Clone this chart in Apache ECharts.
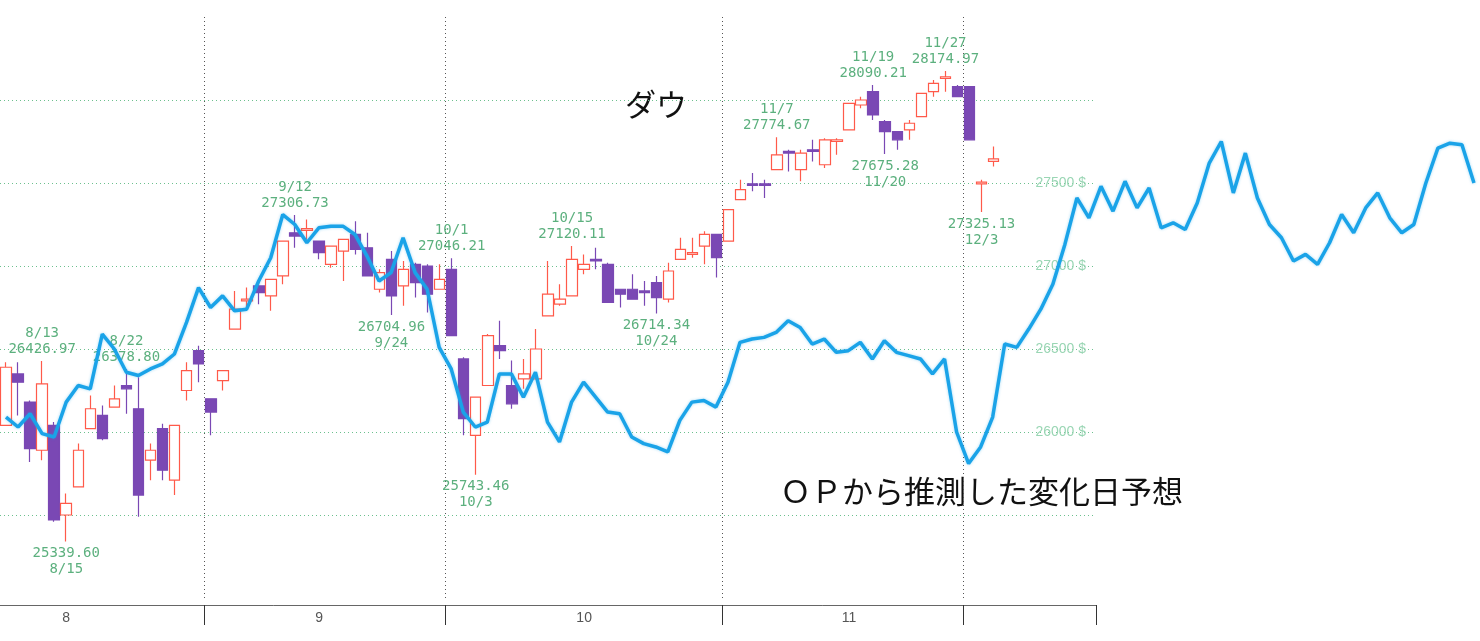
<!DOCTYPE html>
<html><head><meta charset="utf-8">
<script src="https://cdn.jsdelivr.net/npm/echarts@6/dist/echarts.min.js"></script>
<style>html,body{margin:0;padding:0;background:#fff}#c{width:1480px;height:641px}</style>
</head><body><div id="c"></div>
<script>
const dates = ['8/8','8/9','8/12','8/13','8/14','8/15','8/16','8/19','8/20','8/21','8/22','8/23','8/26','8/27','8/28','8/29','8/30',
'9/3','9/4','9/5','9/6','9/9','9/10','9/11','9/12','9/13','9/16','9/17','9/18','9/19','9/20','9/23','9/24','9/25','9/26','9/27','9/30',
'10/1','10/2','10/3','10/4','10/7','10/8','10/9','10/10','10/11','10/14','10/15','10/16','10/17','10/18','10/21','10/22','10/23','10/24','10/25','10/28','10/29','10/30','10/31',
'11/1','11/4','11/5','11/6','11/7','11/8','11/11','11/12','11/13','11/14','11/15','11/18','11/19','11/20','11/21','11/22','11/25','11/26','11/27','11/29',
'12/2','12/3','12/4','12/5','12/6','12/9','12/10','12/11','12/12','12/13','12/16'];
// [open, close, low, high]
const ohlc = [
[26040,26390,26040,26420],[26350,26300,26100,26420],[26180,25900,25820,26190],[25890,26290,25830,26427],
[26040,25470,25460,26060],[25500,25570,25340,25630],[25670,25890,25670,25930],[26020,26140,26020,26220],
[26100,25960,25950,26160],[26150,26200,26150,26280],[26280,26260,26110,26379],[26140,25620,25490,26330],
[25830,25890,25710,25930],[26020,25770,25710,26050],[25710,26040,25620,26040],[26250,26370,26190,26420],
[26490,26410,26300,26520],[26200,26120,25980,26200],[26310,26370,26250,26370],[26620,26740,26620,26850],
[26790,26800,26740,26870],[26880,26840,26770,26910],[26820,26920,26730,26920],[26940,27150,26890,27150],
[27200,27180,27110,27307],[27215,27225,27160,27280],[27150,27080,27040,27150],[27010,27120,26990,27120],
[27090,27160,26910,27160],[27190,27100,27070,27270],[27110,26940,26940,27200],[26860,26960,26840,26980],
[27040,26820,26705,27090],[26880,26980,26760,27030],[27010,26900,26810,27020],[27000,26830,26720,27010],
[26860,26920,26860,27010],[26980,26580,26580,27046],[26440,26080,25980,26450],[25980,26210,25743,26210],
[26280,26580,26280,26590],[26520,26490,26440,26670],[26280,26170,26140,26430],[26320,26350,26260,26440],
[26320,26500,26320,26620],[26700,26830,26700,27030],[26770,26800,26760,26890],[26820,27040,26820,27120],
[26980,27010,26950,27070],[27040,27030,26980,27110],[27010,26780,26780,27020],[26860,26830,26750,26860],
[26860,26800,26800,26950],[26850,26840,26760,26910],[26900,26810,26714,26940],[26800,26970,26780,27020],
[27040,27100,27040,27170],[27070,27080,27050,27170],[27120,27190,27010,27210],[27190,27050,26930,27190],
[27150,27340,27150,27340],[27400,27460,27400,27520],[27495,27485,27450,27560],[27495,27485,27410,27520],
[27580,27670,27580,27775],[27690,27680,27570,27700],[27580,27680,27510,27700],[27700,27690,27630,27760],
[27610,27760,27590,27770],[27750,27760,27670,27770],[27820,27980,27820,27980],[27970,28000,27950,28020],
[28050,27910,27880,28090],[27870,27810,27675,27880],[27810,27760,27700,27810],[27820,27860,27760,27880],
[27900,28040,27900,28040],[28050,28100,28020,28120],[28130,28140,28050,28175],[28080,28020,28020,28090],
[28080,27760,27760,28080],[27495,27505,27325,27520],[27630,27645,27600,27720]
];
const forecast = [26090,26030,26110,25990,25970,26180,26280,26260,26590,26500,26360,26340,26380,26410,26470,26660,26870,
26750,26820,26730,26740,26910,27050,27310,27250,27140,27230,27240,27240,27190,27060,26910,26960,27170,26960,26860,26510,
26380,26120,26030,26060,26350,26350,26210,26360,26060,25940,26180,26300,26210,26120,26110,25970,25930,25910,25880,26070,26180,26190,26150,
26300,26540,26560,26570,26600,26670,26630,26530,26560,26480,26490,26540,26440,26550,26480,26460,26440,26350,26440,26000,
25810,25910,26090,26530,26510,26620,26740,26890,27130,27410,27290,27480,27330,27510,27350,27470,27230,27260,27220,27380,
27620,27750,27440,27680,27410,27250,27170,27030,27070,27010,27140,27310,27200,27350,27440,27290,27200,27250,27500,27710,27740,27730,27500];
const monthStarts = [17,37,60,80];
const monthLabels = {5:'8',26:'9',48:'10',70:'11'};
const yTickLabels = [26000,26500,27000,27500];
const highNotes = [[3,26427,'8/13\n26426.97'],[10,26379,'8/22\n26378.80'],[24,27307,'9/12\n27306.73'],[37,27046,'10/1\n27046.21'],
[47,27120,'10/15\n27120.11'],[64,27775,'11/7\n27774.67'],[72,28090,'11/19\n28090.21'],[78,28175,'11/27\n28174.97']];
const lowNotes = [[5,25340,'25339.60\n8/15'],[32,26705,'26704.96\n9/24'],[39,25743,'25743.46\n10/3'],[54,26714,'26714.34\n10/24'],
[73,27675,'27675.28\n11/20'],[81,27325,'27325.13\n12/3']];
const fcCats = forecast.map((_,i)=>String(i));

const chart = echarts.init(document.getElementById('c'));
const mono = 'DejaVu Sans Mono';
const note = (arr,pos)=>arr.map(n=>({coord:[n[0],n[1]],symbol:'circle',symbolSize:2,
  itemStyle:{color:'rgba(0,0,0,0)'},
  label:{show:true,position:pos,distance:3,formatter:n[2],color:'#5cb07e',fontFamily:mono,fontSize:14,lineHeight:16}}));
chart.setOption({
  animation:false,
  grid:[{left:-5,width:1101,top:17,bottom:43},{left:-5,width:forecast.length*12.1,top:17,bottom:43}],
  xAxis:[{type:'category',data:dates,gridIndex:0,boundaryGap:true,offset:7,
      axisLine:{lineStyle:{color:'#666'}},
      axisTick:{show:true,alignWithLabel:false,interval:(i)=>monthStarts.includes(i),length:20,lineStyle:{color:'#333'}},
      axisLabel:{interval:(i)=>monthLabels[i]!==undefined,formatter:(v,i)=>monthLabels[i]||'',color:'#555',fontSize:14,margin:6},
      splitLine:{show:true,showMaxLine:false,interval:(i)=>monthStarts.includes(i),lineStyle:{color:'#555',type:[1,3],width:1}}},
    {type:'category',data:fcCats,gridIndex:1,boundaryGap:true,show:false}],
  yAxis:[{type:'value',gridIndex:0,min:25000,max:28500,interval:500,position:'right',
      axisLine:{show:false},axisTick:{show:false},
      axisLabel:{inside:true,margin:10,color:'#9ad6b4',fontSize:14,formatter:v=>yTickLabels.includes(v)?v+' $':''},
      splitLine:{show:true,showMinLine:false,showMaxLine:false,lineStyle:{color:'#6cc08e',type:[1,3]}}},
    {type:'value',gridIndex:1,min:25000,max:28500,show:false}],
  series:[
    {type:'candlestick',data:ohlc,xAxisIndex:0,yAxisIndex:0,barWidth:11,
      itemStyle:{color:'#ffffff',borderColor:'#ff5a4a',color0:'#7a48b4',borderColor0:'#7a48b4',borderWidth:1.2},
      markPoint:{silent:true,data:[...note(highNotes,'top'),...note(lowNotes,'bottom')]}},
    {type:'line',data:forecast,xAxisIndex:1,yAxisIndex:1,showSymbol:false,z:5,
      lineStyle:{color:'#1aa3e8',width:3.5,shadowColor:'rgba(26,163,232,0.4)',shadowBlur:3}}
  ],
  graphic:[
    {type:'text',left:625,top:89,style:{text:'ダウ',fontSize:31,fill:'#111',fontFamily:'Noto Sans CJK JP'}},
    {type:'text',left:780,top:476,style:{text:'ＯＰから推測した変化日予想',fontSize:31,fill:'#111',fontFamily:'Noto Sans CJK JP'}}
  ]
});
</script></body></html>
